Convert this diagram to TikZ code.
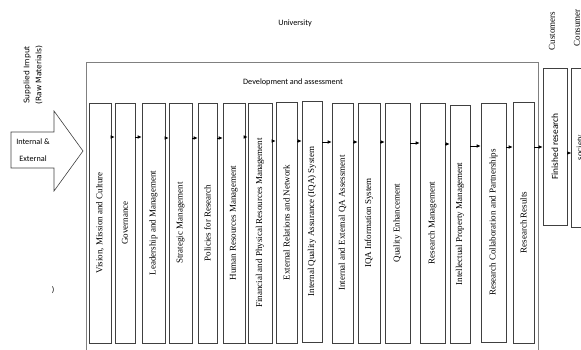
\documentclass[tikz,border=0pt]{standalone}
\usepackage{fontspec}
\setmainfont{Liberation Serif}
\setsansfont{Carlito}
\newfontfamily\verd{DejaVu Sans}
\usetikzlibrary{arrows.meta}

\tikzset{
  box/.style={draw=black!75,line width=0.6pt,inner sep=0pt},
  lbl/.style={rotate=90,font=\fontsize{9}{10}\selectfont,inner sep=0pt},
  flow/.style={-{Latex[length=4pt,width=3.5pt]},line width=0.6pt},
  side/.style={font=\sffamily\fontsize{8.2}{10}\selectfont,inner sep=0pt}
}

\begin{document}
\begin{tikzpicture}[x=1pt,y=-1pt]
    \clip (0,0) rectangle (581,350);
    %Marco universidad
    \draw[gray,line width=0.8pt] (86,356) -- (86,62) -- (538,62) -- (538,356);
    \node[side] (uni) at (295,23) {University};
    \node[side] (dev) at (293,82) {Development and assessment};

    %Entrada
    \node[rotate=90,align=center,inner sep=0pt,font=\verd\fontsize{7.6}{12}\selectfont] (sup) at (33,75) {Supplied Imput\\(Raw Materials)};
    \draw[black!75,line width=0.6pt] (11,132) -- (54,132) -- (54,111) -- (83,151) -- (54,191) -- (54,168) -- (11,168) -- cycle;
    \node[side,align=center,font=\sffamily\fontsize{8.2}{17}\selectfont] (inp) at (33,150) {Internal \&\\External};
    \node[side] (par) at (53,290) {)};

    %Cajas
    \foreach \n/\xl/\xr/\yt/\yb/\txt in {
        1/89/111/103/343/{Vision, Mission and Culture},
        2/115/135/103/343/{Governance},
        3/142/165/103/343/{Leadership and Management},
        4/169/192/103/343/{Strategic Management},
        5/198/217/103/343/{Policies for Research},
        6/223/245/103/343/{Human Resources Management},
        7/248/272/103/343/{Financial and Physical Resources Management},
        8/276/297/102/343/{External Relations and Network},
        9/302/322/101/342/{Internal Quality Assurance (IQA) System},
        10/332/353/103/343/{Internal and External QA Assessment},
        11/358/380/103/343/{IQA Information System},
        12/385/410/103/343/{Quality Enhancement},
        13/420/445/103/343/{Research Management},
        14/450/470/105/343/{Intellectual Property Management},
        15/481/506/103/342/{Research Collaboration and Partnerships},
        16/513/534/102/343/{Research Results}}{
        \node[box,minimum width=\xr-\xl,minimum height=\yb-\yt] (b\n) at ({(\xl+\xr)/2},{(\yt+\yb)/2}) {};
        \node[lbl] (t\n) at (b\n) {\txt};
    }

    %Salida
    \node[box,minimum width=24,minimum height=157] (fin) at (555,146.5) {};
    \node[lbl,font=\sffamily\fontsize{9.4}{12}\selectfont] (tfin) at (fin) {Finished research};
    \node[box,minimum width=18,minimum height=159] (soc) at (580.7,147.5) {};
    \node[lbl] (tsoc) at (soc) {society};
    \node[lbl] (cus) at (552,31) {Customers};
    \node[lbl] (con) at (577,28) {Consumer};

    %Flechas
    \foreach \i/\j/\y in {1/2/137,2/3/137,3/4/138,4/5/138,5/6/138,6/7/137,7/8/141,8/9/141,
        9/10/142,10/11/142,11/12/142,12/13/143,13/14/144,14/15/146,15/16/147}{
        \draw[flow] (b\i.east |- 0,\y) -- (b\j.west |- 0,\y);
    }
    \draw[flow] (b16.east |- 0,147) -- (fin.west |- 0,147);
    \draw[flow] (fin.east |- 0,153) -- (soc.west |- 0,153);
\end{tikzpicture}
\end{document}
